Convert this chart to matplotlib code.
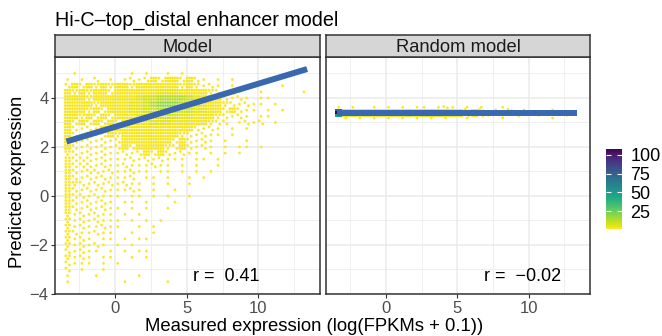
import numpy as np
import matplotlib
matplotlib.use("Agg")
import matplotlib.pyplot as plt
from matplotlib.colors import Normalize
from matplotlib import cm

plt.rcParams['font.family'] = ['Liberation Sans', 'DejaVu Sans']

TITLE = "Hi-C\u2013top_distal enhancer model"
PANELS = ["Model", "Random model"]
X_LABEL = "Measured expression (log(FPKMs + 0.1))"
Y_LABEL = "Predicted expression"
R_VALUES = [0.41, -0.02]

# linear fits: intercept, slope, x range covered by the data
FIT_MODEL = (2.82, 0.176)
FIT_RANDOM = (3.40, 0.0)
FIT_X = [-3.4, 13.4]

# bin counts per cell of measured (x) vs predicted (y) expression.
# '.' empty, '1'-'4' a few points, 'a'-'j' crowded cells (see FILL_COUNTS)
FILL_COUNTS = {'a': 2, 'b': 3, 'c': 5, 'd': 8, 'e': 12, 'f': 18, 'g': 25,
               'h': 45, 'i': 70, 'j': 108}
X_BIN_START, X_BIN_STEP, N_XBINS = -3.32, 0.5, 34

MODEL_Y_TOP, MODEL_Y_STEP = 5.0, 0.25
MODEL_ROWS = [
    ".1.......1.1..1.1",
    "1.1.2.1.1212a2aa2a21.1.1",
    "2a2a3a3aa3aaaaaa3a3121.1......1",
    "a3a3aa2aaabbbcccbbaa32121..1.....1",
    "aba3aaabbbcddeeeedcbaa2121.11",
    "baaa3abbbccdefffeedcba321211.1",
    "baa3a2abbccddeeeddccba2a211.1.1",
    "ba3a2a2abbcccdddccbba32121.11",
    "b2a2a2a2abbbcccbbbaa322.1212.1",
    "a2121a2aabbbbbbaaa2121.1.1",
    "a21212a3aabbbaaa321211.1",
    "a2121212aaaabaa2a2121.1..1",
    "a2121212a2aaaa32a2121.1.11.1",
    "32121211212a2a21211.1.1.1",
    "42221211121212111.11.1",
    "422212112111211.1.1..1",
    "421221211211.11.1.1.1",
    "4212121112.11.1..1.1",
    "43212121211.1.1..1",
    "42121211121.1..1",
    "42212111.11.1.1..1",
    "4212121.11.1...1",
    "42121211.1.1..1",
    "3121211.1.1",
    "31212111.1.1.1",
    "31211211..1.1",
    "3211211..1..1",
    "3121.11.1.11",
    "312121.1.1",
    "21211.1.1.11",
    "3121.11..1.1",
    "2111.1.1",
    "2.1..1",
    "1...1.....1",
    "1.......1.....1",
]

RANDOM_Y_TOP, RANDOM_Y_STEP = 3.62, 0.11
RANDOM_ROWS = [
    "1.1..1.1.1.11.121.1.1..1",
    "ibbabababbcbcccbba2a2.1.2.1...1",
    "jfeeeeefffgggffeedcbba2a1a.1.1.1",
    "hbbabababbcbccbbba2a21.1.2..1...1",
    ".1.1.1.1.1.1.1.1..1....1......1",
]

# where the points of a bin sit inside its cell (fractions of the cell size)
DOT_OFFSETS = {
    1: [(0.0, 0.0)],
    2: [(-0.25, 0.25), (0.25, -0.25)],
    3: [(-0.25, 0.25), (0.25, 0.25), (0.0, -0.25)],
    4: [(-0.25, 0.25), (0.25, 0.25), (-0.25, -0.25), (0.25, -0.25)],
}
FILL_OFFSETS = [(ox, oy) for oy in (-0.25, 0.25) for ox in (-1 / 3, 0, 1 / 3)]

CMAP = matplotlib.colormaps['viridis_r']
NORM = Normalize(vmin=1, vmax=108)

W, H = 662, 336
fig = plt.figure(figsize=(W / 100, H / 100), dpi=100)


def fx(px):
    return px / W


def fy(py):
    return 1 - py / H


XLIM = (-4.2, 14.3)
YLIM = (-4.0, 5.67)
PANEL_TOP, PANEL_BOTTOM = 57, 294
STRIP_TOP = 35
PANEL_X = [(55, 320), (326, 590)]
BORDER = '#333333'


def draw_bins(ax, rows, y_top, y_step, speckled):
    xc = X_BIN_START + X_BIN_STEP * np.arange(N_XBINS)
    yc = y_top - y_step * np.arange(len(rows))
    grid = np.zeros((len(rows), N_XBINS))
    px, py, pc = [], [], []
    for r, row in enumerate(rows):
        row = row.ljust(N_XBINS, '.')[:N_XBINS]
        for c, ch in enumerate(row):
            if ch in '1234':
                for ox, oy in DOT_OFFSETS[int(ch)]:
                    px.append(xc[c] + ox * X_BIN_STEP)
                    py.append(yc[r] + oy * y_step)
                    pc.append(1)
            elif ch in FILL_COUNTS:
                if speckled:
                    for ox, oy in FILL_OFFSETS:
                        px.append(xc[c] + ox * X_BIN_STEP)
                        py.append(yc[r] + oy * y_step)
                        pc.append(FILL_COUNTS[ch])
                else:
                    grid[r, c] = FILL_COUNTS[ch]
    if not speckled:
        xe = np.concatenate([xc - X_BIN_STEP / 2, [xc[-1] + X_BIN_STEP / 2]])
        ye = np.concatenate([yc + y_step / 2, [yc[-1] - y_step / 2]])
        ax.pcolormesh(xe, ye, np.ma.masked_equal(grid, 0), cmap=CMAP,
                      norm=NORM, shading='flat', edgecolors='none',
                      antialiased=False, zorder=2)
    ax.scatter(px, py, s=4.8, marker='h', c=pc, cmap=CMAP, norm=NORM,
               linewidths=0, zorder=3)


axes = []
for i, (x0, x1) in enumerate(PANEL_X):
    ax = fig.add_axes([fx(x0), fy(PANEL_BOTTOM), fx(x1 - x0),
                       (PANEL_BOTTOM - PANEL_TOP) / H])
    ax.set_xlim(*XLIM)
    ax.set_ylim(*YLIM)
    ax.set_xticks([0, 5, 10])
    ax.set_xticks([-2.5, 2.5, 7.5, 12.5], minor=True)
    ax.set_yticks([-4, -2, 0, 2, 4])
    ax.set_yticks([-3, -1, 1, 3, 5], minor=True)
    ax.grid(which='major', color='#EBEBEB', linewidth=1.1, zorder=0)
    ax.grid(which='minor', color='#EBEBEB', linewidth=0.55, zorder=0)
    ax.set_axisbelow(True)
    ax.tick_params(which='minor', length=0)
    ax.tick_params(which='major', length=2.75, width=0.8, color=BORDER,
                   labelcolor='#4D4D4D', labelsize=12, pad=2)
    if i == 1:
        ax.tick_params(left=False, labelleft=False)
    for sp in ax.spines.values():
        sp.set_color(BORDER)
        sp.set_linewidth(1.1)
    axes.append(ax)

    sax = fig.add_axes([fx(x0), fy(PANEL_TOP), fx(x1 - x0),
                        (PANEL_TOP - STRIP_TOP) / H])
    sax.set_facecolor('#D6D6D6')
    sax.set_xticks([])
    sax.set_yticks([])
    for sp in sax.spines.values():
        sp.set_color(BORDER)
        sp.set_linewidth(1.1)
    sax.text(0.5, 0.45, PANELS[i], ha='center', va='center', fontsize=13.2,
             color='#1A1A1A', transform=sax.transAxes)

draw_bins(axes[0], MODEL_ROWS, MODEL_Y_TOP, MODEL_Y_STEP, speckled=True)
draw_bins(axes[1], RANDOM_ROWS, RANDOM_Y_TOP, RANDOM_Y_STEP, speckled=False)

LINE_COLOR = '#3A68B0'
for ax, (b0, b1) in zip(axes, [FIT_MODEL, FIT_RANDOM]):
    fxs = np.array(FIT_X)
    ax.plot(fxs, b0 + b1 * fxs, color=LINE_COLOR, linewidth=4.3,
            solid_capstyle='butt', zorder=4)

axes[0].text(5.4, -3.48, f"r =  {R_VALUES[0]:.2f}", fontsize=13,
             ha='left', va='baseline', zorder=5)
axes[1].text(6.9, -3.48, f"r =  {R_VALUES[1]:.2f}".replace('-', '\u2212'),
             fontsize=13, ha='left', va='baseline', zorder=5)

fig.text(fx(55), fy(26), TITLE, fontsize=14.2, ha='left', va='baseline',
         color='black')
fig.text(fx(314), fy(331), X_LABEL, fontsize=13.3, ha='center',
         va='baseline', color='black')
fig.text(fx(18), fy(182), Y_LABEL, fontsize=13.3, rotation=90,
         ha='center', va='center', color='black')

cax = fig.add_axes([fx(606), fy(229), fx(16), 80 / H])
cb = fig.colorbar(cm.ScalarMappable(norm=NORM, cmap=CMAP), cax=cax,
                  ticks=[25, 50, 75, 100])
cb.outline.set_visible(False)
cax.tick_params(direction='in', color='white', length=3.5, width=0.8,
                left=True, right=True, labelsize=13, pad=6,
                labelcolor='black')

fig.savefig('out.png', dpi=100)
